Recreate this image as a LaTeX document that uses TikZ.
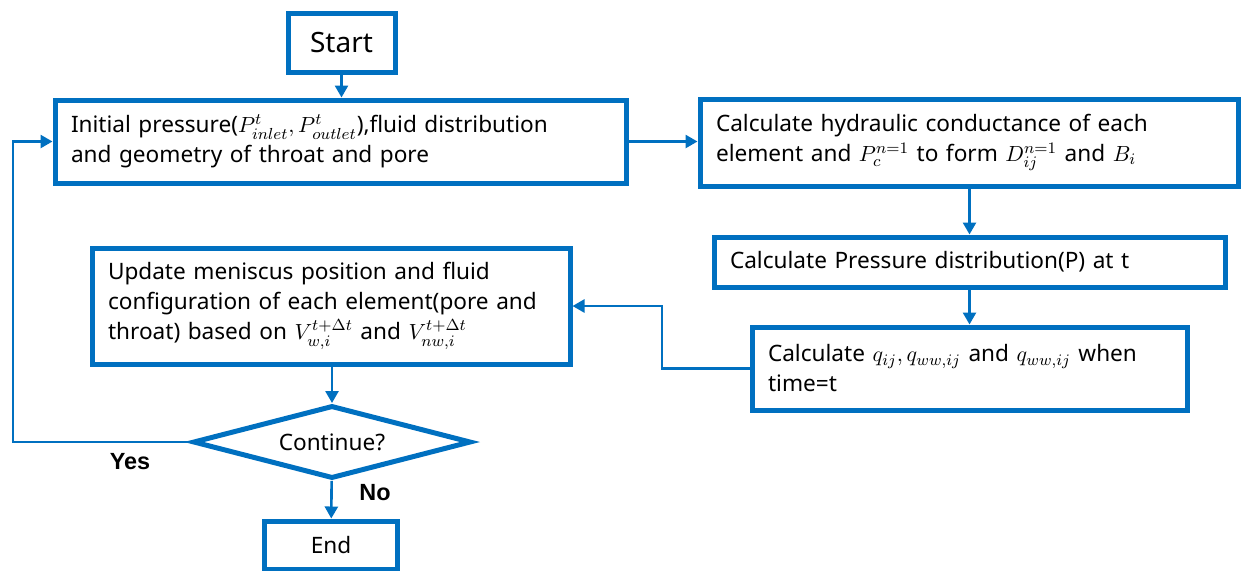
\documentclass[tikz,border=0pt]{standalone}
\usepackage{amsmath,amssymb}
\usepackage{fontspec}
\setmainfont{Noto Sans}
\newfontfamily\lblfont{Liberation Sans}
\usetikzlibrary{arrows.meta,positioning,shapes.geometric,calc}
\definecolor{flowblue}{RGB}{0,112,192}

\begin{document}
\begin{tikzpicture}[x=0.5pt,y=-0.5pt,
  box/.style={draw=flowblue,line width=2.5pt,align=left,inner xsep=8pt,inner ysep=0pt,font=\fontsize{11.3}{15}\selectfont},
  term/.style={draw=flowblue,line width=2.5pt,inner sep=0pt},
  flow/.style={draw=flowblue,line width=1.3pt,-{Triangle[length=6pt,width=6.5pt]}},
  lbl/.style={font=\lblfont\fontsize{11.7}{14}\selectfont\bfseries}]
\useasboundingbox (0,0) rectangle (1246,570);
\node[term,minimum width=53.5pt,minimum height=29.5pt,font=\fontsize{14}{16}\selectfont] (start) at (341.5,42.5) {Start};
\node[box,text width=269.5pt,minimum height=41.5pt] (init) at (340.5,141.5)
  {Initial pressure($P_{inlet}^{t},P_{outlet}^{t}$),fluid distribution\\and geometry of throat and pore};
\node[box,text width=253pt,minimum height=43.5pt] (hyd) at (969,142.5)
  {Calculate hydraulic conductance of each\\element and $P_c^{n=1}$ to form $D_{ij}^{n=1}\ \mathrm{and}\ B_i$};
\node[box,text width=239.5pt,minimum height=25pt] (press) at (969.5,262)
  {Calculate Pressure distribution(P) at t};
\node[box,text width=201.5pt,minimum height=41.5pt] (qbox) at (969.5,368.5)
  {Calculate $q_{ij},q_{ww,ij}$ and $q_{ww,ij}$ when\\time=t};
\node[box,text width=223pt,minimum height=58pt] (upd) at (331,306)
  {Update meniscus position and fluid\\configuration of each element(pore and\\throat) based on $V_{w,i}^{t+\Delta t}$ and $V_{nw,i}^{t+\Delta t}$};
\node[diamond,draw=flowblue,line width=2.5pt,inner sep=0pt,aspect=3.8,minimum width=139pt,minimum height=36.5pt,
  font=\fontsize{11.3}{14}\selectfont] (test) at (332,442) {Continue?};
\node[term,minimum width=66.5pt,minimum height=24pt,font=\fontsize{11.3}{14}\selectfont] (endbox) at (331,545) {End};
\node[lbl] (yes) at (130,462) {Yes};
\node[lbl] (no) at (375,493) {No};
\coordinate (qturn) at (662,306);
\coordinate (loop) at (13,442);
\draw[flow] (start) -- (start |- init.north);
\draw[flow] (init.east) -- (init.east -| hyd.west);
\draw[flow] (press |- hyd.south) -- (press);
\draw[flow] (press) -- (qbox);
\draw[flow] (qbox.west) -| (qturn) -- (upd.east);
\draw[flow] (upd.south -| test) -- (test);
\draw[flow] (test.west) -- (loop) |- (init.west);
\draw[flow] (test) -- (endbox);
\end{tikzpicture}
\end{document}
